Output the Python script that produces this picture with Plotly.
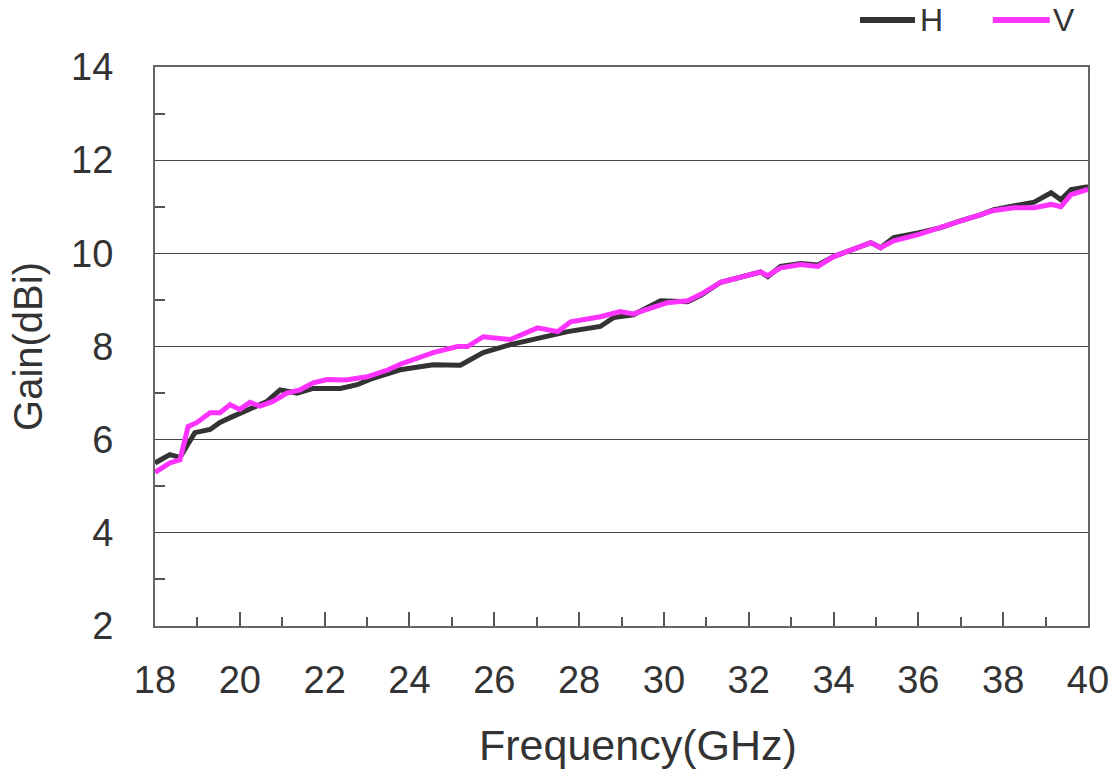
import plotly.graph_objects as go

freq_h = [18.0, 18.35, 18.59, 18.83, 18.94, 19.3, 19.53, 19.84, 20.24, 20.64, 20.95, 21.35, 21.73,
          22.37, 22.77, 23.08, 23.78, 24.56, 25.2, 25.74, 26.38, 27.09, 27.73, 28.5, 28.81, 29.28,
          29.92, 30.56, 30.87, 31.34, 32.28, 32.45, 32.75, 33.23, 33.63, 34.0, 34.41, 34.88, 35.11,
          35.42, 35.99, 36.53, 36.93, 37.48, 37.78, 38.25, 38.73, 39.13, 39.36, 39.6, 40.0]
gain_h = [5.5, 5.68, 5.62, 6.0, 6.15, 6.22, 6.37, 6.5, 6.65, 6.82, 7.07, 7.0, 7.1,
          7.1, 7.18, 7.3, 7.5, 7.61, 7.6, 7.87, 8.04, 8.19, 8.32, 8.43, 8.62, 8.68,
          8.98, 8.96, 9.1, 9.38, 9.6, 9.5, 9.72, 9.78, 9.75, 9.93, 10.08, 10.23, 10.12,
          10.34, 10.44, 10.55, 10.68, 10.83, 10.94, 11.03, 11.1, 11.3, 11.15, 11.37, 11.43]

freq_v = [18.0, 18.35, 18.59, 18.78, 18.99, 19.3, 19.53, 19.77, 20.0, 20.24, 20.48, 20.78, 21.11,
          21.42, 21.73, 22.06, 22.5, 23.0, 23.5, 23.78, 24.56, 25.13, 25.37, 25.74, 26.38, 27.02,
          27.5, 27.8, 28.5, 28.97, 29.28, 29.68, 30.08, 30.56, 30.87, 31.34, 32.28, 32.45, 32.75,
          33.23, 33.63, 34.0, 34.41, 34.88, 35.11, 35.42, 35.99, 36.53, 36.93, 37.48, 37.78, 38.25,
          38.73, 39.13, 39.36, 39.6, 40.0]
gain_v = [5.3, 5.5, 5.57, 6.28, 6.37, 6.58, 6.58, 6.75, 6.65, 6.8, 6.72, 6.82, 7.0,
          7.07, 7.22, 7.29, 7.28, 7.35, 7.5, 7.62, 7.87, 8.0, 8.0, 8.21, 8.15, 8.4,
          8.32, 8.53, 8.64, 8.75, 8.7, 8.83, 8.94, 8.98, 9.12, 9.38, 9.6, 9.52, 9.69,
          9.76, 9.72, 9.93, 10.08, 10.23, 10.12, 10.27, 10.4, 10.55, 10.68, 10.83, 10.92, 10.98,
          10.98, 11.05, 11.0, 11.26, 11.37]

series_names = ["H", "V"]
series_colors = ["#333333", "#ff33ff"]

x_ticks = [18, 20, 22, 24, 26, 28, 30, 32, 34, 36, 38, 40]
y_ticks = [2, 4, 6, 8, 10, 12, 14]

FONT = "Liberation Sans, Arial, sans-serif"
TXT = "#333333"

fig = go.Figure()
fig.add_trace(go.Scatter(x=freq_h, y=gain_h, mode="lines", name=series_names[0],
                         line=dict(color=series_colors[0], width=5)))
fig.add_trace(go.Scatter(x=freq_v, y=gain_v, mode="lines", name=series_names[1],
                         line=dict(color=series_colors[1], width=5)))

# manual legend (long line keys like the original)
legend_pos = [(0.7556, 0.8146, 0.818), (0.898, 0.959, 0.960)]
for name, color, (x0, x1, xt) in zip(series_names, series_colors, legend_pos):
    fig.add_shape(type="line", xref="paper", yref="paper", x0=x0, x1=x1, y0=1.084, y1=1.084,
                  line=dict(color=color, width=6))
    fig.add_annotation(xref="paper", yref="paper", x=xt, y=1.084, text=name, showarrow=False,
                       xanchor="left", yanchor="middle", font=dict(size=32, color=TXT))

# x-axis title (placed as in the original, slightly right of centre)
fig.add_annotation(xref="paper", yref="paper", x=0.5177, y=-0.212, text="Frequency(GHz)",
                   showarrow=False, xanchor="center", yanchor="middle",
                   font=dict(size=43, color=TXT))

fig.update_layout(
    width=1112, height=773,
    margin=dict(l=155, r=24, t=67, b=147, autoexpand=False),
    paper_bgcolor="white", plot_bgcolor="white",
    font=dict(family=FONT, size=38, color=TXT),
    showlegend=False,
)
fig.update_xaxes(
    range=[18, 40], tickvals=x_ticks, ticktext=[str(v) for v in x_ticks],
    ticks="inside", ticklen=14, tickwidth=1.5, tickcolor="#555555",
    minor=dict(dtick=1, ticks="inside", ticklen=9, tickwidth=1.5, tickcolor="#555555", showgrid=False),
    showgrid=False, showline=True, linecolor="#666666", linewidth=2, mirror=True,
    zeroline=False, ticklabelstandoff=19, automargin=False,
)
fig.update_yaxes(
    range=[2, 14], tickvals=y_ticks, ticktext=[str(v) for v in y_ticks],
    ticks="", showgrid=True, gridcolor="#444444", gridwidth=1,
    minor=dict(tickvals=[3, 5, 7, 9, 11, 13], ticks="inside", ticklen=10, tickwidth=1.5,
               tickcolor="#555555", showgrid=False),
    showline=True, linecolor="#666666", linewidth=2, mirror=True,
    zeroline=False, ticklabelstandoff=32, automargin=False,
    title=dict(text="Gain(dBi)", font=dict(size=40, color=TXT), standoff=16),
)

fig.write_html("out.html", config={"displayModeBar": False},
               post_script="document.body.style.margin='0';")
